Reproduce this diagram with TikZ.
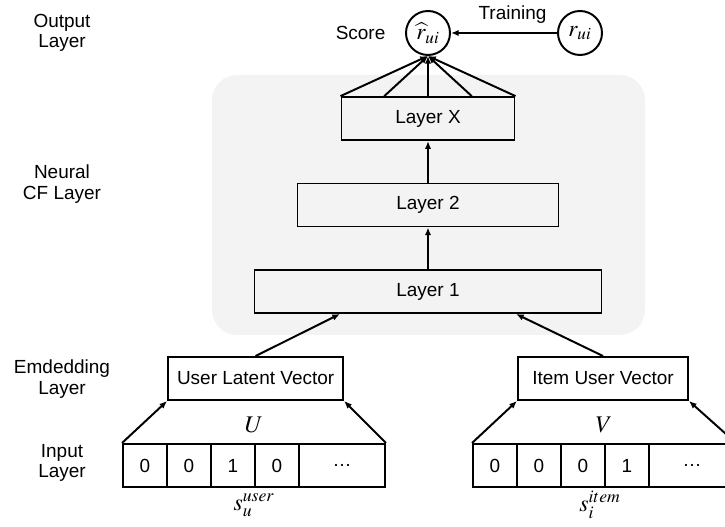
\documentclass[tikz,border=0pt]{standalone}
\usepackage{mathptmx}
\usepackage{fontspec}
\setmainfont{Liberation Sans}
\usetikzlibrary{positioning,calc,arrows.meta}
\definecolor{cfgray}{RGB}{243,243,243}
\begin{document}
\begin{tikzpicture}[
 font=\fontsize{13.5}{14.5}\selectfont,
 line width=1.4pt,
 layer/.style = {rectangle, draw, minimum height=1.075cm, inner sep=0pt},
 cell/.style  = {rectangle, draw, minimum height=1.075cm,
                 minimum width=1.1cm, inner sep=0pt},
 unit/.style  = {circle, draw, minimum size=1.1cm, inner sep=0pt,
                 font=\fontsize{16.5}{17}\selectfont},
 sym/.style   = {font=\fontsize{17}{17}\selectfont},
 tag/.style   = {align=center},
 conn/.style  = {-{Latex[length=5.5pt,width=4.5pt]}}
                    ]
\clip (0,0) rectangle (18.125,13.175);
% neural CF block
\node(cf) [fill=cfgray, rounded corners=0.625cm,
           minimum width=10.825cm, minimum height=6.5cm] at (10.7125,8.05) {};
%
\node(rhat) [unit] at (10.7,12.35) {$\widehat{r}_{ui}$};
\node(r)    [unit] at (14.5,12.35) {$r_{ui}$};
\node(score) [left=0.35cm of rhat] {Score};
%
\node(lx)  [layer, minimum width=4.325cm] at (10.7,10.21)  {Layer X};
\node(l2)  [layer, minimum width=6.525cm] at (10.7,8.05)   {Layer 2};
\node(l1)  [layer, minimum width=8.675cm] at (10.7,5.8875) {Layer 1};
\node(ulv) [layer, minimum width=4.375cm] at (6.39,3.7125)  {User Latent Vector};
\node(iuv) [layer, minimum width=4.25cm]  at (15.075,3.7125) {Item User Vector};
%
\foreach \v [count=\i] in {0,0,1,0}
  \node(u\i) [cell] at ({3.625+1.1*(\i-1)},1.5375) {\v};
\node(ud) [cell, minimum width=2.15cm] at (8.55,1.5375) {\dots};
\foreach \v [count=\i] in {0,0,0,1}
  \node(i\i) [cell] at ({12.375+1.1*(\i-1)},1.5375) {\v};
\node(id) [cell, minimum width=2.15cm] at (17.3,1.5375) {\dots};
%
\node(ulab) [sym] at (6.35,2.55)  {$U$};
\node(vlab) [sym] at (15.1,2.55)  {$V$};
\node(su)   [sym] at (6.35,0.55)  {$s_u^{user}$};
\node(si)   [sym] at (15.0,0.55)  {$s_i^{item}$};
%
\node(tout) [tag] at (1.55,12.35) {Output\\Layer};
\node(tcf)  [tag] at (1.55,8.575) {Neural\\CF Layer};
\node(temb) [tag] at (1.55,3.7)   {Emdedding\\Layer};
\node(tin)  [tag] at (1.55,1.6)   {Input\\Layer};
%
\foreach \f in {0,0.25,0.5,0.75,1}
  \draw[conn] ($(lx.north west)!\f!(lx.north east)$) -- (rhat.south);
\draw[conn] (r) -- node[above=3pt, pos=0.42] (train) {Training} (rhat);
\draw[conn] (l2.north) -- (lx.south);
\draw[conn] (l1.north) -- (l2.south);
\draw[conn] (ulv.north) -- ([xshift=-2.2cm]l1.south);
\draw[conn] (iuv.north) -- ([xshift=2.2cm]l1.south);
\draw[conn] (u1.north west) -- (ulv.south west);
\draw[conn] (ud.north east) -- (ulv.south east);
\draw[conn] (i1.north west) -- (iuv.south west);
\draw[conn] (id.north east) -- (iuv.south east);
\end{tikzpicture}
\end{document}
